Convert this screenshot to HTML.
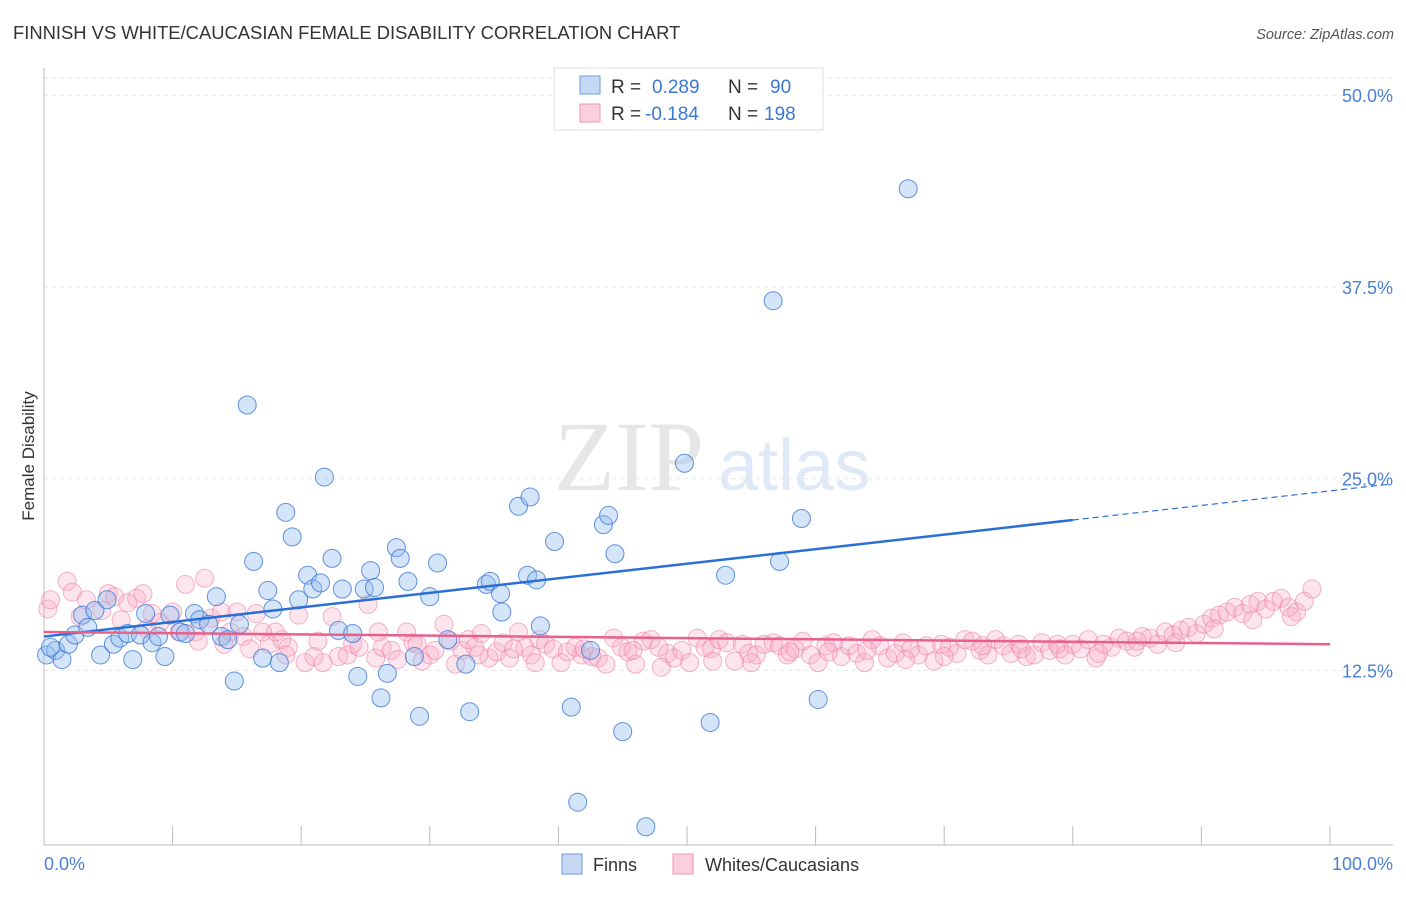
<!DOCTYPE html>
<html><head><meta charset="utf-8"><style>
body{margin:0;background:#fff;font-family:"Liberation Sans",sans-serif}
</style></head><body>
<svg width="1406" height="892" xmlns="http://www.w3.org/2000/svg" font-family="Liberation Sans, sans-serif">
<text x="13" y="39" font-size="18.4" fill="#333">FINNISH VS WHITE/CAUCASIAN FEMALE DISABILITY CORRELATION CHART</text>
<text x="1394" y="39" font-size="14.5" fill="#555" font-style="italic" text-anchor="end">Source: ZipAtlas.com</text>
<text x="554" y="490" font-size="100" fill="#e6e6e6" style="font-family:'Liberation Serif',serif">ZIP</text>
<text x="718" y="490" font-size="72" fill="#dfe9f7">atlas</text>
<g id="grid"></g>
<g id="axes"></g>
<g id="pink"></g>
<g id="blue"></g>
<g id="lines"></g>
<text transform="translate(34,456) rotate(-90)" font-size="17" fill="#333" text-anchor="middle">Female Disability</text>
<text x="44" y="870" font-size="18" fill="#4a7fd4">0.0%</text>
<text x="1393" y="870" font-size="18" fill="#4a7fd4" text-anchor="end">100.0%</text>
<g>
<rect x="554" y="68" width="269" height="62" fill="#fff" stroke="#ddd"/>
<rect x="580" y="76" width="20" height="18" fill="#c5d9f5" stroke="#6f9de0"/>
<rect x="580" y="104" width="20" height="18" fill="#fbcfdc" stroke="#f095b2"/>
<text x="611" y="93" font-size="19" fill="#333">R = </text><text x="652" y="93" font-size="19" fill="#3a78d4">0.289</text>
<text x="728" y="93" font-size="19" fill="#333">N = </text><text x="770" y="93" font-size="19" fill="#3a78d4">90</text>
<text x="611" y="120" font-size="19" fill="#333">R = </text><text x="645" y="120" font-size="19" fill="#3a78d4">-0.184</text>
<text x="728" y="120" font-size="19" fill="#333">N = </text><text x="764" y="120" font-size="19" fill="#3a78d4">198</text>
</g>
<g><rect x="562" y="854" width="20" height="20" fill="#c5d9f5" stroke="#6f9de0"/><text x="593" y="871" font-size="18" fill="#333">Finns</text></g>
<g><rect x="673" y="854" width="20" height="20" fill="#fbcfdc" stroke="#f095b2"/><text x="705" y="871" font-size="18" fill="#333">Whites/Caucasians</text></g>
</svg>
<script>
const yTicks=[12.5,25,37.5,50];
const yTickLabels=["12.5%","25.0%","37.5%","50.0%"];
const xTicks=[10,20,30,40,50,60,70,80,90,100];
const finnsX=[0.2,0.9,1.4,1.9,2.4,3.0,3.4,3.96,4.4,4.9,5.4,5.9,6.5,6.9,7.5,7.9,8.4,8.9,9.4,9.8,10.6,11.0,11.7,12.1,12.8,13.4,13.8,14.3,14.8,15.2,15.8,16.3,17.0,17.4,17.8,18.3,18.8,19.3,19.8,20.5,20.9,21.5,21.8,22.4,22.9,23.2,24.0,24.4,24.9,25.4,25.7,26.2,26.7,27.4,27.7,28.3,28.8,29.2,30.0,30.6,31.4,32.8,33.1,34.4,34.7,35.5,35.6,36.9,37.8,37.6,38.3,38.6,39.7,41.0,41.5,42.5,43.5,43.9,44.4,45.0,46.8,49.8,51.8,53.0,56.7,57.2,58.9,60.2,67.2,0.5];
const finnsY=[13.5,13.8,13.2,14.2,14.8,16.1,15.3,16.4,13.5,17.1,14.2,14.6,14.9,13.2,14.8,16.2,14.3,14.7,13.4,16.1,15.0,14.9,16.2,15.8,15.5,17.3,14.7,14.5,11.8,15.5,29.8,19.6,13.3,17.7,16.5,13.0,22.8,21.2,17.1,18.7,17.8,18.2,25.1,19.8,15.1,17.8,14.9,12.1,17.8,19.0,17.9,10.7,12.3,20.5,19.8,18.3,13.4,9.5,17.3,19.5,14.5,12.9,9.8,18.1,18.3,17.5,16.3,23.2,23.8,18.7,18.4,15.4,20.9,10.1,3.9,13.8,22.0,22.6,20.1,8.5,2.3,26.0,9.1,18.7,36.6,19.6,22.4,10.6,43.9,14.0];
const whitesX=[0.3,0.5,1.8,2.2,3.3,4.5,5.0,5.5,6.5,7.2,7.7,8.4,9.0,10.0,10.5,11.0,11.8,12.5,13.0,13.8,14.5,15.0,15.5,16.0,17.0,17.5,18.0,18.5,19.0,19.8,20.3,21.0,21.7,22.4,22.9,23.6,24.0,24.5,25.2,25.8,26.3,27.0,27.5,28.2,28.7,29.4,30.0,30.4,31.1,31.6,32.0,32.5,33.0,33.5,34.0,34.6,35.2,35.7,36.2,36.9,37.4,37.9,38.5,39.0,39.6,40.2,40.7,41.3,41.8,42.6,43.1,43.7,44.3,44.9,45.4,46.0,46.6,47.2,47.8,48.5,49.0,49.6,50.2,50.8,51.4,51.9,52.5,53.1,53.7,54.3,54.8,55.4,56.0,56.7,57.2,57.8,58.4,59.0,59.6,60.2,60.8,61.4,62.0,62.6,63.2,63.8,64.4,65.0,65.6,66.2,66.8,67.4,68.0,68.6,69.2,69.8,70.4,71.0,71.6,72.2,72.8,73.4,74.0,74.6,75.2,75.8,76.4,77.0,77.6,78.2,78.8,79.4,80.0,80.6,81.2,81.8,82.4,83.0,83.6,84.2,84.8,85.4,86.0,86.6,87.2,87.8,88.4,89.0,89.6,90.2,90.8,91.4,92.0,92.6,93.2,93.8,94.4,95.0,95.6,96.2,96.8,97.4,98.0,98.6,2.8,6.0,8.0,12.0,14.0,16.5,18.8,21.3,26.0,29.0,33.8,36.5,38.2,42.0,45.8,48.0,52.0,55.0,58.0,61.0,64.0,67.0,70.0,73.0,76.0,79.0,82.0,85.0,88.0,91.0,94.0,97.0];
const whitesY=[16.5,17.1,18.3,17.6,17.1,16.4,17.5,17.3,16.9,17.2,17.5,16.2,15.6,16.3,15.0,18.1,15.0,18.5,15.9,16.3,15.0,16.3,14.7,13.9,15.0,14.2,15.0,14.5,14.0,16.1,13.0,13.4,13.0,16.0,13.4,13.5,14.2,14.0,16.8,13.3,14.0,13.8,13.2,15.0,14.3,13.1,13.5,13.8,15.5,14.4,12.9,13.8,14.5,14.0,14.9,13.3,13.7,14.3,13.3,15.0,14.0,13.5,14.5,14.2,13.9,13.0,13.7,14.0,13.5,13.4,13.3,12.9,14.6,14.0,13.7,12.9,14.4,14.5,14.0,13.6,13.3,13.8,13.0,14.6,14.0,13.9,14.5,14.3,13.1,14.2,13.6,13.5,14.2,14.3,14.1,13.5,13.9,14.4,13.5,13.0,14.1,14.3,13.4,14.1,13.6,13.0,14.5,14.1,13.3,13.6,14.3,13.9,13.5,14.1,13.1,14.2,14.0,13.6,14.5,14.4,13.8,13.5,14.5,14.1,13.6,14.2,13.4,13.5,14.3,13.8,14.2,13.5,14.2,13.9,14.5,13.3,14.2,14.0,14.6,14.4,14.0,14.7,14.6,14.2,15.0,14.8,15.1,15.3,14.9,15.5,15.9,16.1,16.3,16.6,16.2,16.8,17.0,16.5,17.0,17.2,16.6,16.3,17.0,17.8,16.0,15.8,15.2,14.4,14.2,16.2,13.5,14.4,15.0,14.2,13.5,13.9,13.0,13.9,13.8,12.7,13.1,13.0,13.7,13.7,13.8,13.2,13.4,14.1,13.9,13.9,13.6,14.4,14.3,15.2,15.8,16.0];
const finnsTrend=[14.7,24.2];
const whitesTrend=[15.0,14.2];
const NS="http://www.w3.org/2000/svg";
const X0=44,X1=1330,Y0=862,PPU=15.336;
function sx(v){return X0+(X1-X0)*v/100;}
function sy(v){return Y0-v*PPU;}
function mk(t,a,p){const e=document.createElementNS(NS,t);for(const k in a)e.setAttribute(k,a[k]);document.getElementById(p).appendChild(e);return e;}
yTicks.forEach((t,i)=>{
 const g=mk('line',{x1:44,x2:1393,y1:sy(t),y2:sy(t),stroke:'#e6e6e6','stroke-dasharray':'4,4'},'grid');
 
 
 const l=mk('text',{x:1393,y:sy(t)+7,'font-size':18,fill:'#4a7fd4','text-anchor':'end'},'grid');
 l.textContent=yTickLabels[i];
 
 
});
const topGrid=mk('line',{x1:44,x2:1393,y1:78,y2:78,stroke:'#e6e6e6','stroke-dasharray':'4,4'},'grid');


const yAxisLine=mk('line',{x1:44,x2:44,y1:68,y2:845,stroke:'#bbb'},'axes');


const xAxisLine=mk('line',{x1:44,x2:1393,y1:845,y2:845,stroke:'#bbb'},'axes');


xTicks.forEach(t=>{
 const k=mk('line',{x1:sx(t),x2:sx(t),y1:826,y2:845,stroke:'#bbb'},'axes');
 
 
});
whitesX.forEach((x,i)=>{
 const c=mk('circle',{cx:sx(x),cy:sy(whitesY[i]),r:9,fill:'rgba(248,170,195,0.3)',stroke:'rgba(238,130,165,0.6)','stroke-width':1},'pink');
 
 
});
finnsX.forEach((x,i)=>{
 const c=mk('circle',{cx:sx(x),cy:sy(finnsY[i]),r:9,fill:'rgba(150,190,240,0.4)',stroke:'rgba(60,120,215,0.8)','stroke-width':1},'blue');
 
 
});
function tv(tr,x){return tr[0]+(tr[1]-tr[0])*x/100;}
const finnsLine=mk('line',{x1:sx(0),y1:sy(tv(finnsTrend,0)),x2:sx(80),y2:sy(tv(finnsTrend,80)),stroke:'#2a6fd6','stroke-width':2.5},'lines');


const finnsDash=mk('line',{x1:sx(80),y1:sy(tv(finnsTrend,80)),x2:sx(104.5),y2:sy(tv(finnsTrend,104.5)),stroke:'#2a6fd6','stroke-width':1.2,'stroke-dasharray':'6,4'},'lines');


const whitesLine=mk('line',{x1:sx(0),y1:sy(whitesTrend[0]),x2:sx(100),y2:sy(whitesTrend[1]),stroke:'#e8608a','stroke-width':2.5},'lines');


</script>
</body></html>
